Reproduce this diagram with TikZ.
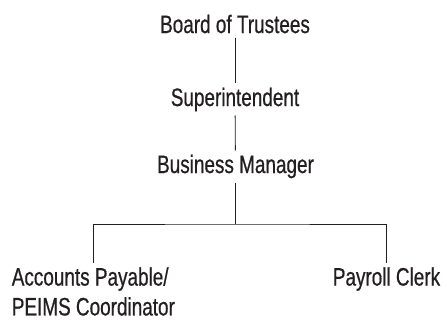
\documentclass[tikz,border=0pt]{standalone}
\usepackage{fontspec}
\setmainfont{Liberation Sans}[FakeStretch=0.75, FakeBold=0.6]
\definecolor{ink}{RGB}{35,31,32}
\tikzset{post/.style={font=\fontsize{19}{22.5}\selectfont, text=ink, inner sep=3pt}}
\begin{document}
\begin{tikzpicture}[>=latex, scale=1]
    \useasboundingbox (0,0) rectangle (11.827,8.520);
        \node(board) at (6.218,7.646)[post, anchor=base]{Board of Trustees};
        \node(super) at (6.218,5.715)[post, anchor=base]{Superintendent};
        \node(manager) at (6.231,3.942)[post, anchor=base]{Business Manager};
        \node(accounts) at (2.47,1.561)[post, anchor=north, align=left]{Accounts Payable/\\PEIMS Coordinator};
        \node(clerk) at (10.226,1.561)[post, anchor=north]{Payroll Clerk};
    \coordinate(bar) at (6.218,2.593);
    \draw[ink, line width=.6pt](board)--(super);
    \draw[ink, line width=.6pt](super)--(manager);
    \draw[ink, line width=.6pt](manager.south-|bar)--(bar);
    \draw[ink, line width=.6pt](accounts.north)|-(bar)-|(clerk.north);
    \end{tikzpicture}
\end{document}
